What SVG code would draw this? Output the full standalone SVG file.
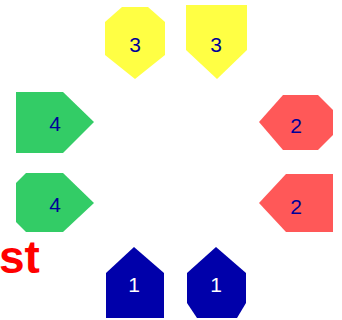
<svg xmlns="http://www.w3.org/2000/svg" width="342" height="320" viewBox="0 0 342 320">
<style>
.y{fill:#ffff44}
.g{fill:#33cc66}
.r{fill:#ff5858}
.b{fill:#0000aa}
.t{font-family:"Liberation Sans",Arial,sans-serif;font-size:21px;text-anchor:middle;fill:#000099}
.w{fill:#ffffff}
</style>
<rect width="342" height="320" fill="#ffffff"/>
<g id="connectors"></g>
<g id="y1"><polygon class="y" points="122,7 148,7 165,22 165,55 135,79 105,55 105,22"/><text class="t" x="135" y="52">3</text></g>
<g id="y2"><polygon class="y" points="186,5 247,5 247,50 217,79 186,50"/><text class="t" x="216" y="52">3</text></g>
<g id="g1"><polygon class="g" points="16,92 63,92 94,122 63,153 16,153"/><text class="t" x="55" y="131">4</text></g>
<g id="g2"><polygon class="g" points="26,173 63,173 94,203 63,232 26,232 16,222 16,183"/><text class="t" x="55" y="212">4</text></g>
<g id="r1"><polygon class="r" points="283,95 318,95 333,110 333,135 318,150 283,150 259,122"/><text class="t" x="296" y="133">2</text></g>
<g id="r2"><polygon class="r" points="286,174 333,174 333,232 286,232 259,203"/><text class="t" x="296" y="214">2</text></g>
<g id="b1"><polygon class="b" points="134,247 164,273 164,318 106,318 106,273"/><text class="t w" x="134" y="292">1</text></g>
<g id="b2"><polygon class="b" points="216,247 246,273 246,303 237,318 197,318 187,303 187,273"/><text class="t w" x="216" y="292">1</text></g>
<text x="-1" y="273" font-family="Liberation Sans,Arial,sans-serif" font-weight="bold" font-size="46" fill="#ff0000">st</text>
</svg>
